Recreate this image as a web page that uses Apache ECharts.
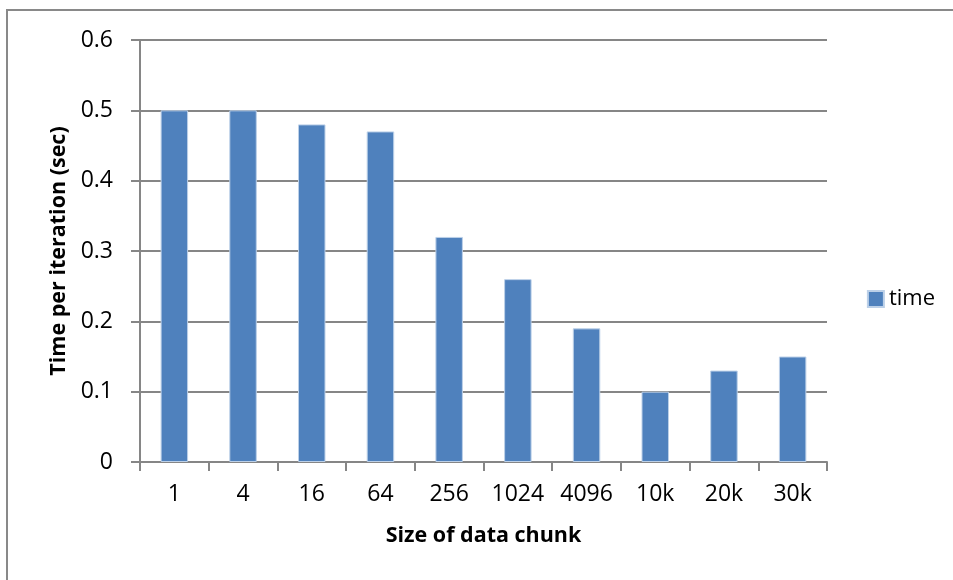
<!DOCTYPE html>
<html><head><meta charset="utf-8">
<script src="https://cdn.jsdelivr.net/npm/echarts@6/dist/echarts.min.js"></script>
<style>html,body{margin:0;padding:0;background:#fff}#c{width:953px;height:580px}</style>
</head><body><div id="c"></div>
<script>
const categories = ['1','4','16','64','256','1024','4096','10k','20k','30k'];
const timeValues = [0.5,0.5,0.48,0.47,0.32,0.26,0.19,0.10,0.13,0.15];
const yTicks = [0,0.1,0.2,0.3,0.4,0.5,0.6];

const font = 'Open Sans, Liberation Sans, sans-serif';
const chart = echarts.init(document.getElementById('c'));
chart.setOption({
  animation:false,
  backgroundColor:'#fff',
  graphic:[{type:'rect',shape:{x:7,y:10,width:1000,height:700},style:{fill:'none',stroke:'#898989',lineWidth:2},z:-1}],
  grid:{left:140,right:126,top:40,bottom:118,containLabel:false},
  legend:{data:['time'],right:13,top:283,orient:'vertical',icon:'rect',itemWidth:16,itemHeight:16,itemGap:6,
    textStyle:{fontFamily:font,fontSize:22,color:'#000'}},
  xAxis:{type:'category',data:categories,
    name:'Size of data chunk',nameLocation:'middle',nameGap:63,
    nameTextStyle:{fontFamily:font,fontSize:21.5,fontWeight:'bold',color:'#000'},
    axisLine:{lineStyle:{color:'#868686',width:2}},
    axisTick:{show:true,length:9,alignWithLabel:false,lineStyle:{color:'#868686',width:2}},
    axisLabel:{margin:21,fontFamily:font,fontSize:23,color:'#000'}},
  yAxis:{type:'value',min:0,max:0.6,interval:0.1,
    name:'Time per iteration (sec)',nameLocation:'middle',nameGap:70,
    nameTextStyle:{fontFamily:font,fontSize:21.5,fontWeight:'bold',color:'#000'},
    axisLine:{show:true,lineStyle:{color:'#868686',width:2}},
    axisTick:{show:true,length:9,lineStyle:{color:'#868686',width:2}},
    splitLine:{lineStyle:{color:'#868686',width:2}},
    axisLabel:{margin:27,fontFamily:font,fontSize:23,color:'#000',
      formatter:v=>{const t=yTicks.find(x=>Math.abs(x-v)<1e-9);return t===undefined?'':String(+t.toFixed(1));}}},
  series:[{name:'time',type:'bar',data:timeValues,barCategoryGap:'60%',
    itemStyle:{color:'#4F81BD',borderColor:'#bcd0e8',borderWidth:1}}]
});
</script></body></html>
